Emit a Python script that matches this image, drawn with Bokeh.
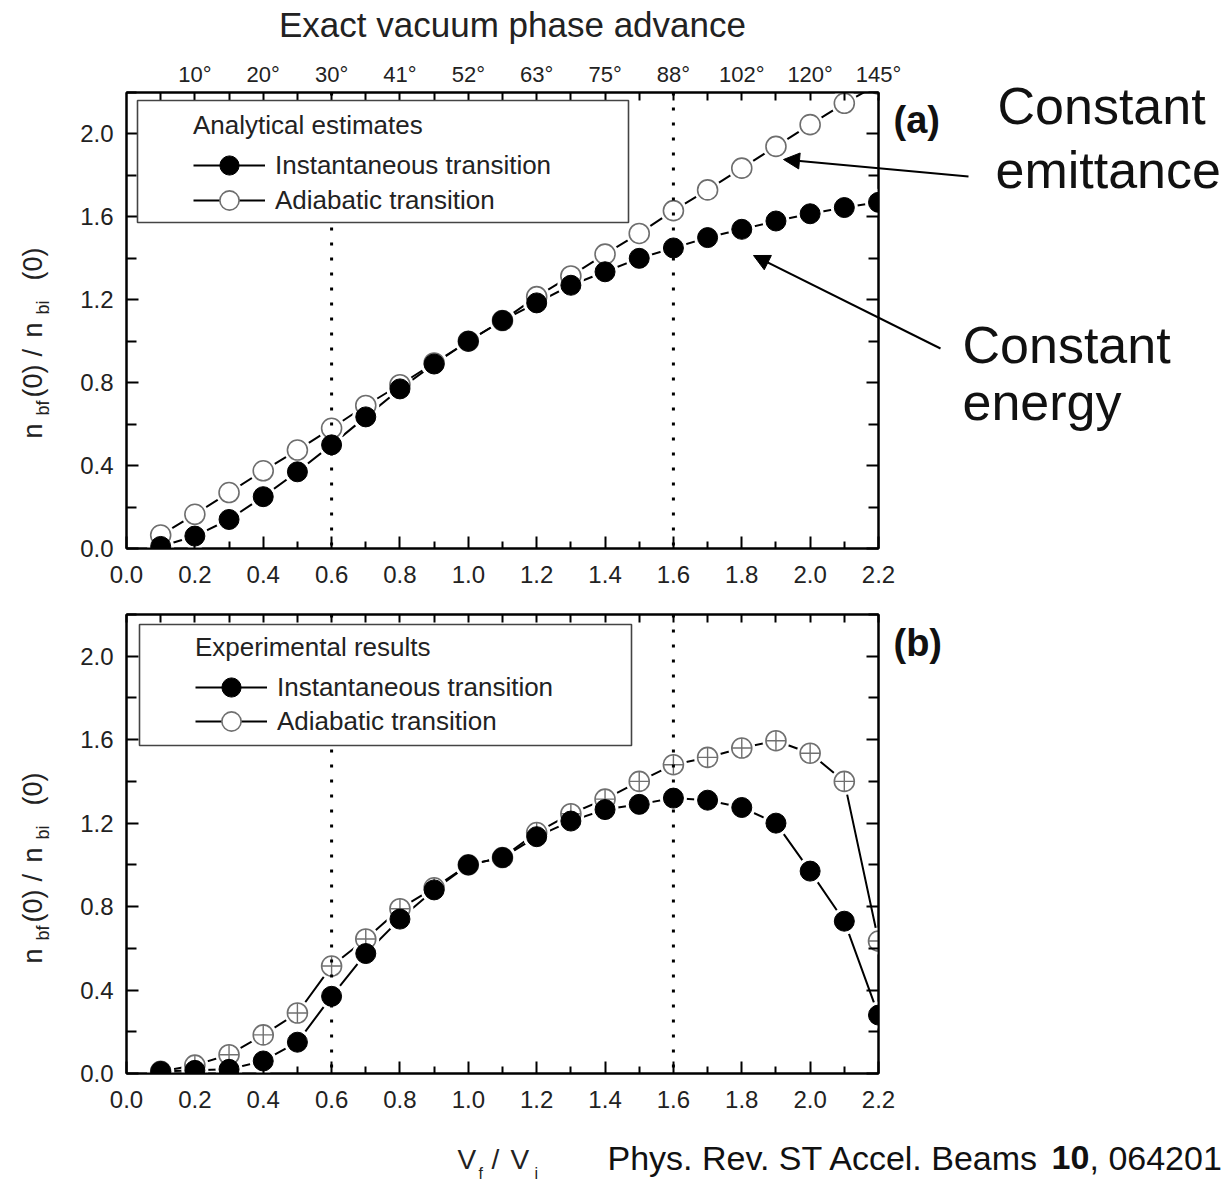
import math
from bokeh.plotting import figure
from bokeh.models import (LinearAxis, FixedTicker, PrintfTickFormatter, Range1d, Span,
                          BoxAnnotation, Legend, LegendItem, Label, Arrow, NormalHead,
                          ColumnDataSource, CustomJSTickFormatter, GridBox)
from bokeh.layouts import column
from bokeh.embed import file_html
from bokeh.resources import INLINE

# ---------------- data ----------------
vf_vi = [0.1, 0.2, 0.3, 0.4, 0.5, 0.6, 0.7, 0.8, 0.9, 1.0, 1.1,
         1.2, 1.3, 1.4, 1.5, 1.6, 1.7, 1.8, 1.9, 2.0, 2.1, 2.2]
# (a) analytical estimates
a_instantaneous = [0.01, 0.06, 0.14, 0.25, 0.37, 0.50, 0.635, 0.77, 0.89, 1.00, 1.10,
                   1.185, 1.27, 1.335, 1.40, 1.45, 1.50, 1.54, 1.58, 1.615, 1.645, 1.67]
a_adiabatic = [0.065, 0.165, 0.27, 0.375, 0.475, 0.58, 0.69, 0.79, 0.895, 1.00, 1.10,
               1.215, 1.315, 1.42, 1.52, 1.63, 1.73, 1.835, 1.94, 2.045, 2.148, 2.24]
# (b) experimental results
b_instantaneous = [0.01, 0.015, 0.02, 0.06, 0.15, 0.37, 0.575, 0.74, 0.88, 1.00, 1.035,
                   1.135, 1.21, 1.265, 1.29, 1.32, 1.31, 1.275, 1.20, 0.97, 0.73, 0.28]
b_adiabatic = [0.01, 0.04, 0.09, 0.185, 0.29, 0.515, 0.645, 0.79, 0.89, 1.00, 1.035,
               1.155, 1.245, 1.315, 1.40, 1.48, 1.515, 1.56, 1.595, 1.535, 1.40, 0.635]
# top axis: exact vacuum phase advance
phase_positions = [0.2, 0.4, 0.6, 0.8, 1.0, 1.2, 1.4, 1.6, 1.8, 2.0, 2.2]
phase_labels = ["10°", "20°", "30°", "41°", "52°", "63°", "75°", "88°", "102°", "120°", "145°"]
marked_ratios = [0.6, 1.6]

# ---------------- geometry / style ----------------
FONT = "Liberation Sans"
W, H = 1232, 1185
FL, FR = 126, 878            # frame left / right (px)
H1, T1, B1 = 595, 92, 548    # figure 1 height, frame top/bottom (page px)
H2, T2, B2 = 590, 614, 1073  # figure 2 (page px)
XMAX, YMAX = 2.2, 2.2

x_major = [round(0.2 * i, 1) for i in range(12)]
x_minor = [round(0.1 + 0.2 * i, 1) for i in range(11)]
y_major = [round(0.4 * i, 1) for i in range(6)]
y_minor = [round(0.2 + 0.4 * i, 1) for i in range(6)]

BLANK = "return '';"


def fx(px):
    return (px - FL) * XMAX / (FR - FL)


def fy1(py):
    return (B1 - py) * YMAX / (B1 - T1)


def fy2(py):
    return (B2 - py) * YMAX / (B2 - T2)


def style_axis(ax, show_labels=True, major_in=12, minor_in=7):
    ax.axis_line_width = 2
    ax.axis_line_color = "black"
    ax.major_tick_in = major_in
    ax.major_tick_out = 0
    ax.minor_tick_in = minor_in
    ax.minor_tick_out = 0
    ax.major_tick_line_width = 2
    ax.minor_tick_line_width = 2
    ax.major_label_text_font = FONT
    ax.major_label_text_color = "#222222"
    ax.major_label_text_font_size = "24px"
    if show_labels:
        ax.major_label_standoff = 8
    else:
        ax.formatter = CustomJSTickFormatter(code=BLANK)
        ax.major_label_standoff = 0


def make_fig(height, top_px, bottom_px):
    p = figure(width=W, height=height, x_range=Range1d(0, XMAX), y_range=Range1d(0, YMAX),
               output_backend="svg", toolbar_location=None,
               min_border_left=FL, min_border_right=W - FR,
               min_border_top=top_px, min_border_bottom=bottom_px)
    p.grid.visible = False
    p.outline_line_color = "black"
    p.outline_line_width = 2
    p.background_fill_color = "white"
    p.border_fill_color = "white"
    p.xaxis.ticker = FixedTicker(ticks=x_major, minor_ticks=x_minor)
    p.yaxis.ticker = FixedTicker(ticks=y_major, minor_ticks=y_minor)
    p.xaxis.formatter = PrintfTickFormatter(format="%.1f")
    p.yaxis.formatter = PrintfTickFormatter(format="%.1f")
    style_axis(p.xaxis[0])
    p.xaxis[0].major_label_standoff = 17
    style_axis(p.yaxis[0], minor_in=10)
    p.yaxis[0].major_label_standoff = 13
    ry = LinearAxis(ticker=FixedTicker(ticks=y_major, minor_ticks=y_minor))
    style_axis(ry, show_labels=False, minor_in=10)
    p.add_layout(ry, "right")
    return p


def add_series(p, src_inst, src_adia, adia_color, crossed):
    l_inst = p.line("x", "y", source=src_inst, line_color="black", line_width=2)
    l_adia = p.line("x", "y", source=src_adia, line_color="black", line_width=2)
    p.scatter("x", "y", source=src_adia, size=27, fill_color="white", line_color=None)
    p.scatter("x", "y", source=src_inst, size=27, fill_color="white", line_color=None)
    m_adia = p.scatter("x", "y", source=src_adia, marker="circle", size=20,
                       fill_color="white", line_color=adia_color, line_width=1.6)
    if crossed:
        p.scatter("x", "y", source=src_adia, marker="cross", size=20,
                  line_color=adia_color, line_width=1.4)
    m_inst = p.scatter("x", "y", source=src_inst, marker="circle", size=20,
                       fill_color="black", line_color="black", line_width=1)
    return l_inst, l_adia, m_adia, m_inst


def add_spans(p):
    for v in marked_ratios:
        p.add_layout(Span(location=v, dimension="height", line_color="black",
                          line_width=3, line_dash="3 12"))


def legend_part(p, items, loc, title=None):
    kw = dict(items=items, location=loc,
              glyph_width=72, glyph_height=48, spacing=0, label_standoff=10,
              padding=0, margin=0, border_line_alpha=0, background_fill_alpha=0,
              label_text_font=FONT, label_text_font_size="26px", label_text_color="#222222")
    if title is not None:
        kw.update(title=title, title_text_font=FONT, title_text_font_size="26px",
                  title_text_font_style="normal", title_text_color="#222222", title_standoff=-5)
    p.add_layout(Legend(**kw))


def make_legend(p, title, item1, item2, x, row1_bottom, row2_bottom):
    # two stacked legend parts so the markers can be drawn full size at the original row pitch
    legend_part(p, [item1], (x, row1_bottom), title=title)
    legend_part(p, [item2], (x, row2_bottom))


# ---------------- panel (a) ----------------
p1 = make_fig(H1, T1, H1 - B1)
top = LinearAxis(ticker=FixedTicker(ticks=phase_positions, minor_ticks=x_minor),
                 formatter=CustomJSTickFormatter(
                     args=dict(pos=phase_positions, labs=phase_labels),
                     code="const i = pos.findIndex(v => Math.abs(v - tick) < 1e-6); return i >= 0 ? labs[i] : '';"))
style_axis(top, major_in=8, minor_in=8)
top.major_label_text_font_size = "22px"
top.major_label_standoff = 6
p1.add_layout(top, "above")

src_ai = ColumnDataSource(dict(x=vf_vi, y=a_instantaneous))
src_aa = ColumnDataSource(dict(x=vf_vi, y=a_adiabatic))
l_i, l_a, m_a, m_i = add_series(p1, src_ai, src_aa, "#6e6e6e", False)
add_spans(p1)
p1.add_layout(BoxAnnotation(left=fx(137), right=fx(628), top=fy1(100), bottom=fy1(222),
                            fill_color="white", fill_alpha=1, line_color="#444444",
                            line_alpha=1, line_width=1.6))
make_legend(p1, "Analytical estimates",
            LegendItem(label="Instantaneous transition", renderers=[l_i, m_i]),
            LegendItem(label="Adiabatic transition", renderers=[l_a, m_a]),
            193 - FL, B1 - (165 + 24), B1 - (200 + 24))

# ---------------- panel (b) ----------------
p2 = make_fig(H2, T2 - H1, H1 + H2 - B2)
top2 = LinearAxis(ticker=FixedTicker(ticks=x_major, minor_ticks=x_minor))
style_axis(top2, show_labels=False, major_in=8, minor_in=8)
p2.add_layout(top2, "above")

src_bi = ColumnDataSource(dict(x=vf_vi, y=b_instantaneous))
src_ba = ColumnDataSource(dict(x=vf_vi, y=b_adiabatic))
l_i2, l_a2, m_a2, m_i2 = add_series(p2, src_bi, src_ba, "#707070", True)
add_spans(p2)
p2.add_layout(BoxAnnotation(left=fx(139), right=fx(631), top=fy2(624), bottom=fy2(745),
                            fill_color="white", fill_alpha=1, line_color="#444444",
                            line_alpha=1, line_width=1.6))
make_legend(p2, "Experimental results",
            LegendItem(label="Instantaneous transition", renderers=[l_i2, m_i2]),
            LegendItem(label="Adiabatic transition", renderers=[l_a2, m_a2]),
            195 - FL, B2 - (687 + 24), B2 - (721 + 24))

# ---------------- overlay for the texts outside the frames (page pixel coords) ----------------
ov = figure(width=W, height=H, x_range=Range1d(0, W), y_range=Range1d(H, 0),
            output_backend="svg", toolbar_location=None, min_border=0,
            x_axis_location=None, y_axis_location=None)
ov.grid.visible = False
ov.outline_line_color = None
ov.background_fill_alpha = 0
ov.border_fill_alpha = 0

SHIFT = 0.38  # measured offset of the rendered baseline, in em


def label(x, base, text, fs, bold=False, color="#111111", rotated=False, align="left"):
    if rotated:
        x, y, angle = x - SHIFT * fs, base, math.pi / 2
    else:
        x, y, angle = x, base - SHIFT * fs, 0.0
    ov.add_layout(Label(x=x, y=y, text=text, text_font=FONT, text_font_size=f"{fs}px",
                        text_font_style="bold" if bold else "normal", text_color=color,
                        angle=angle, text_align=align, text_baseline="alphabetic"))


label(512, 37, "Exact vacuum phase advance", 35, color="#222222", align="center")
for off in (0, B2 - B1):
    for txt, px, py, fs in [("n", 43, 438, 27), ("bf", 49, 415, 18),
                            ("(0)", 43, 397, 27), ("/", 43, 356, 27),
                            ("n", 43, 337, 27), ("bi", 49, 314, 18),
                            ("(0)", 43, 280, 27)]:
        label(px, py + off, txt, fs, color="#222222", rotated=True)
label(893, 134, "(a)", 38, bold=True)
label(893, 657, "(b)", 38, bold=True)
label(997, 125, "Constant", 52)
label(995, 189, "emittance", 52)
label(962, 364, "Constant", 52)
label(962, 421, "energy", 52)
ov.add_layout(Arrow(end=NormalHead(size=16, fill_color="black", line_color="black"),
                    x_start=968, y_start=176, x_end=783, y_end=159,
                    line_color="black", line_width=2))
ov.add_layout(Arrow(end=NormalHead(size=16, fill_color="black", line_color="black"),
                    x_start=940, y_start=348, x_end=753, y_end=255,
                    line_color="black", line_width=2))
# x axis label V_f / V_i
label(457, 1170, "V", 28, color="#222222")
label(478, 1179, "f", 16, color="#222222")
label(491, 1170, "/", 28, color="#222222")
label(510, 1170, "V", 28, color="#222222")
label(534, 1179, "i", 16, color="#222222")
# citation
label(607, 1170, "Phys. Rev. ST Accel. Beams", 34)
label(1051, 1170, "10", 34, bold=True)
label(1089, 1170, ", 064201", 34)

layout = GridBox(children=[(column(p1, p2, spacing=0), 0, 0), (ov, 0, 0)])
open("out.html", "w").write(file_html(layout, INLINE))
